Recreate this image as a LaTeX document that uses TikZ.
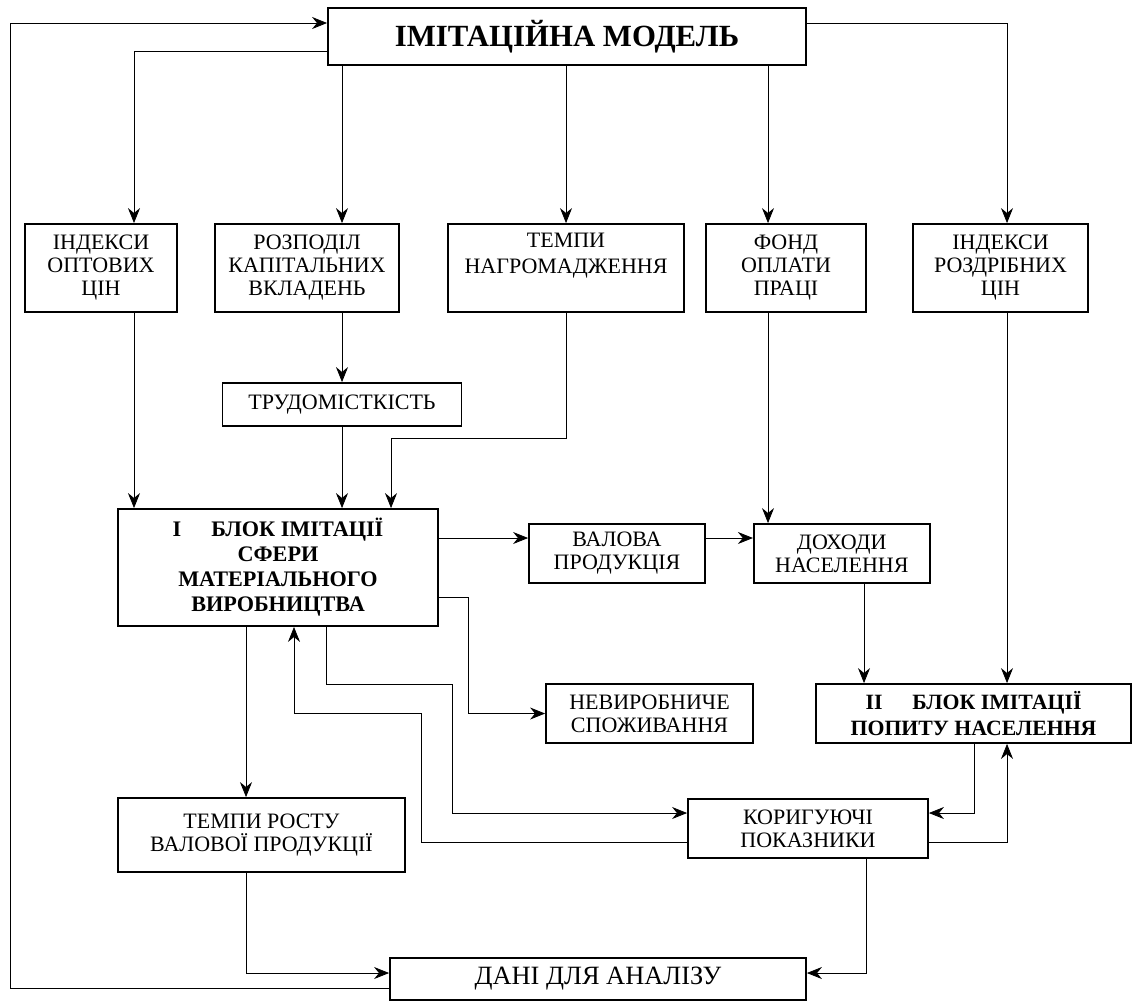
\documentclass[tikz,border=0pt]{standalone}
\usepackage{fontspec}
\setmainfont{Liberation Serif}
\usetikzlibrary{arrows.meta,positioning}
\tikzset{
    %Define standard arrow tip
    >={Stealth[length=7.5pt,width=6pt]},
    line width=0.8pt,
    pokaz/.style={
      rectangle,
      draw=black, line width=0.9pt,
      inner sep=0pt,
      align=center,
      font=\fontsize{11}{11.5}\selectfont},
    blok/.style={
      pokaz,
      font=\fontsize{11.1}{12.5}\selectfont\bfseries},
}

\begin{document}
\begin{tikzpicture}[x=0.5pt,y=-0.5pt]
    \useasboundingbox (0,0) rectangle (1133,1002);
    \node (model) [blok, minimum width=239pt, minimum height=28.5pt,
          font=\fontsize{15.4}{17}\selectfont\bfseries] at (567,36.5)
          {ІМІТАЦІЙНА МОДЕЛЬ};
    % second row
    \node (ind1) [pokaz, minimum width=76pt, minimum height=44pt] at (101,268)
          {ІНДЕКСИ\\ОПТОВИХ\\ЦІН};
    \node (rozp) [pokaz, minimum width=92pt, minimum height=44pt] at (307,268)
          {РОЗПОДІЛ\\КАПІТАЛЬНИХ\\ВКЛАДЕНЬ};
    \node (tempy) [pokaz, minimum width=118pt, minimum height=44pt] at (566,268)
          {ТЕМПИ\\[1.5pt]НАГРОМАДЖЕННЯ\\\strut};
    \node (fond) [pokaz, minimum width=80pt, minimum height=44pt] at (786,268)
          {ФОНД\\ОПЛАТИ\\ПРАЦІ};
    \node (ind2) [pokaz, minimum width=87.5pt, minimum height=44pt] at (1000.5,268)
          {ІНДЕКСИ\\РОЗДРІБНИХ\\ЦІН};
    \node (trud) [pokaz, minimum width=119.5pt, minimum height=21.5pt] at (342,404.5)
          {ТРУДОМІСТКІСТЬ};
    % middle
    \node (blok1) [blok, minimum width=160pt, minimum height=58.5pt] at (278,567.5)
          {I\hspace{15pt}БЛОК ІМІТАЦІЇ\\СФЕРИ\\МАТЕРІАЛЬНОГО\\ВИРОБНИЦТВА};
    \node (val) [pokaz, minimum width=88pt, minimum height=29.5pt] at (617,553.5)
          {ВАЛОВА\\ПРОДУКЦІЯ};
    \node (dohody) [pokaz, minimum width=88pt, minimum height=29.5pt] [right=23.5pt of val]
          {ДОХОДИ\\НАСЕЛЕННЯ};
    \node (nevyr) [pokaz, minimum width=103.5pt, minimum height=29.5pt] at (649.5,713.5)
          {НЕВИРОБНИЧЕ\\СПОЖИВАННЯ};
    \node (blok2) [blok, minimum width=157.5pt, minimum height=29.5pt,
          font=\fontsize{10.9}{13}\selectfont\bfseries] at (973.5,713.5)
          {II\hspace{15pt}БЛОК ІМІТАЦІЇ\\ПОПИТУ НАСЕЛЕННЯ};
    % bottom
    \node (temprost) [pokaz, minimum width=143.5pt, minimum height=37pt] at (261.5,835)
          {ТЕМПИ РОСТУ\\ВАЛОВОЇ ПРОДУКЦІЇ};
    \node (koryg) [pokaz, minimum width=120pt, minimum height=29.5pt] at (808,828.5)
          {КОРИГУЮЧІ\\ПОКАЗНИКИ};
    \node (dani) [pokaz, minimum width=208pt, minimum height=21pt,
          font=\fontsize{13.2}{14}\selectfont] at (598,979)
          {ДАНІ ДЛЯ АНАЛІЗУ};

    % corners of the connectors
    \coordinate (l1) at (10,23);
    \coordinate (l2) at (10,988);
    \coordinate (c1) at (134,51);
    \coordinate (c2) at (1007,23);
    \coordinate (c3) at (768,0);
    \coordinate (c4) at (864,0);
    \coordinate (c5) at (246,973);
    \coordinate (k0) at (391,438);
    \coordinate (r1) at (0,538);
    \coordinate (r2) at (468,597);
    \coordinate (k1) at (326,684);
    \coordinate (k2) at (452,813);
    \coordinate (k3) at (421,842);
    \coordinate (k4) at (294,713);
    \coordinate (k5) at (974,813);
    \coordinate (k6) at (1007,842);
    \coordinate (k7) at (866,973);

    % from the model
    \draw[->] (dani.west |- l2) -- (l2) -- (l1) -- (model.west |- l1);
    \draw[->] (model.west |- c1) -- (c1) -- (ind1.north -| c1);
    \draw[->] (model.east |- c2) -- (c2) -- (ind2.north -| c2);
    \draw[->] (model.south -| trud) -- (rozp.north -| trud);
    \draw[->] (model.south -| tempy) -- (tempy.north);
    \draw[->] (model.south -| c3) -- (fond.north -| c3);
    % into block I
    \draw[->] (ind1.south -| c1) -- (blok1.north -| c1);
    \draw[->] (rozp.south -| trud) -- (trud.north);
    \draw[->] (trud.south) -- (blok1.north -| trud);
    \draw[->] (tempy.south) |- (k0) -- (blok1.north -| k0);
    \draw[->] (fond.south -| c3) -- (dohody.north -| c3);
    \draw[->] (ind2.south -| c2) -- (blok2.north -| c2);
    % out of block I
    \draw[->] (blok1.east |- r1) -- (val.west |- r1);
    \draw[->] (val.east |- r1) -- (dohody.west |- r1);
    \draw[->] (blok1.east |- r2) -- (r2) |- (nevyr.west);
    \draw[->] (dohody.south -| c4) -- (blok2.north -| c4);
    \draw[->] (blok1.south -| c5) -- (temprost.north -| c5);
    \draw[->] (blok1.south -| k1) -- (k1) -| (k2) -- (koryg.west |- k2);
    \draw[->] (koryg.west |- k3) -- (k3) |- (k4) -- (blok1.south -| k4);
    \draw[->] (blok2.south -| k5) -- (k5) -- (koryg.east |- k5);
    \draw[->] (koryg.east |- k6) -- (k6) -- (blok2.south -| k6);
    % to the data
    \draw[->] (temprost.south -| c5) -- (c5) -- (dani.west |- c5);
    \draw[->] (koryg.south -| k7) -- (k7) -- (dani.east |- k7);
\end{tikzpicture}
\end{document}
